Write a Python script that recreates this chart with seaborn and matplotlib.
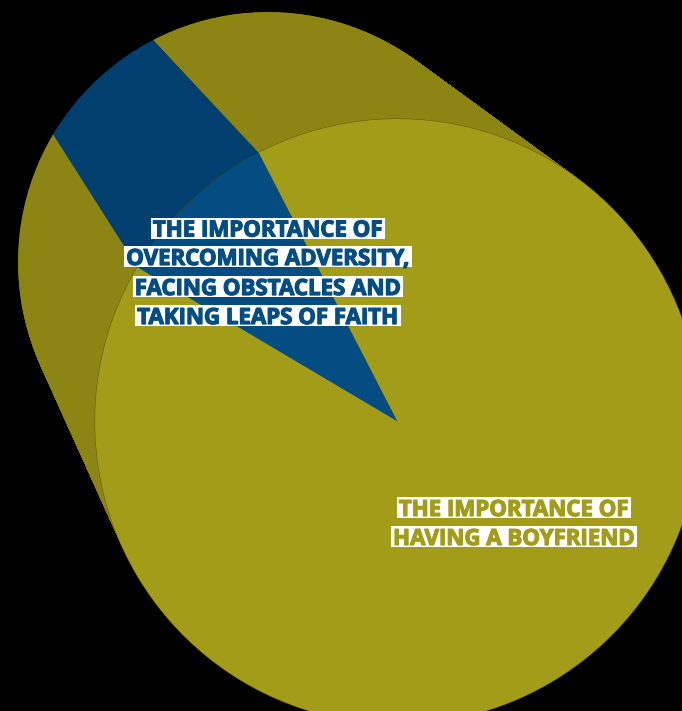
import numpy as np
import matplotlib
matplotlib.use("Agg")
import matplotlib.pyplot as plt
import matplotlib.patheffects as pe
from matplotlib.patches import Rectangle
import seaborn as sns

sns.set_style("white")
plt.rcParams["font.family"] = ["Open Sans", "DejaVu Sans"]

# share of the pie, in percent
categories = ["THE IMPORTANCE OF\nOVERCOMING ADVERSITY,\nFACING OBSTACLES AND\nTAKING LEAPS OF FAITH",
              "THE IMPORTANCE OF\nHAVING A BOYFRIEND"]
shares = [8.9, 91.1]

top_colors = ["#034d82", "#a39c19"]
side_colors = ["#003f6e", "#8c8513"]

W, H = 682, 711
front = (397.5, H - 421.5, 302.5)
back = (268, H - 262, 250)
start = 117.3


def draw_pie(ax, cx, cy, r, colors, **wedgeprops):
    return ax.pie(shares, center=(cx, cy), radius=r, startangle=start,
                  counterclock=True, colors=colors, wedgeprops={"linewidth": 0, **wedgeprops})


fig = plt.figure(figsize=(W / 100, H / 100), dpi=100, facecolor="black")
ax = fig.add_axes([0, 0, 1, 1])

# extrusion: same pie stacked from the back circle to the front one
for t in np.linspace(0, 1, 260)[:-1]:
    draw_pie(ax, back[0] + t * (front[0] - back[0]), back[1] + t * (front[1] - back[1]),
             back[2] + t * (front[2] - back[2]), side_colors)
# thin dark rim under the top face
draw_pie(ax, front[0], front[1], front[2] + 0.5, ["#33471a", "#5f5a12"])
draw_pie(ax, *front, top_colors)

ax.set_xlim(0, W)
ax.set_ylim(0, H)
ax.set_aspect("equal")
ax.axis("off")


def label(lines, color, x, baselines):
    for line, base in zip(lines, baselines):
        txt = ax.text(x, H - base, line, color=color, fontsize=16, fontweight="bold", ha="center", va="baseline",
                      zorder=1001, path_effects=[pe.withStroke(linewidth=0.9, foreground=color)])
        bb = txt.get_window_extent(fig.canvas.get_renderer())
        ax.add_patch(Rectangle((bb.x0 - 2, H - base - 2), bb.width + 4, 21, facecolor="white",
                               edgecolor="none", zorder=1000))


label(categories[0].split("\n"), top_colors[0], 268, [236.5, 265, 295, 324])
label(categories[1].split("\n"), top_colors[1], 514, [516, 545])

fig.savefig("out.png", dpi=100, facecolor="black")
